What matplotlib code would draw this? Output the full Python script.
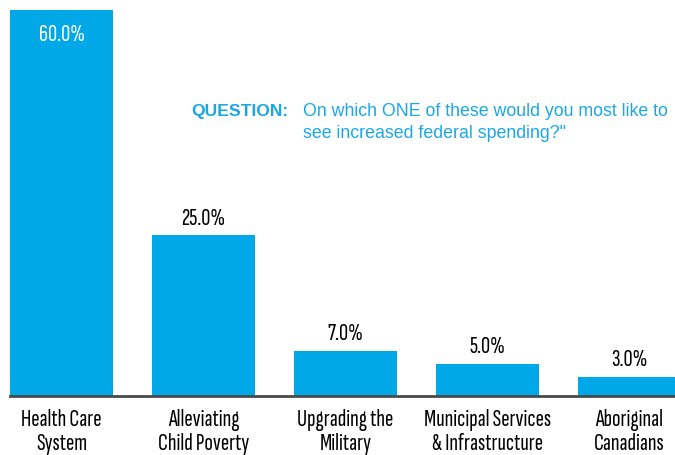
import matplotlib
matplotlib.use("Agg")
import matplotlib.pyplot as plt

# survey results: share of respondents per spending priority
categories = [
    "Health Care\nSystem",
    "Alleviating\nChild Poverty",
    "Upgrading the\nMilitary",
    "Municipal Services\n& Infrastructure",
    "Aboriginal\nCanadians",
]
shares = [60.0, 25.0, 7.0, 5.0, 3.0]

question_tag = "QUESTION:"
question_lines = ["On which ONE of these would you most like to",
                  "see increased federal spending?\""]

BLUE = "#00a8e8"
TEXT_BLUE = "#1aa7e6"
COND = "Sofia Sans Extra Condensed"

fig = plt.figure(figsize=(6.75, 4.55), dpi=100)
ax = fig.add_axes([10 / 675, 59 / 455, 665 / 675, 386 / 455])

x = list(range(len(shares)))
bars = ax.bar(x, shares, width=0.725, color=BLUE, zorder=2)
ax.set_xlim(-0.3627, 4.32)
ax.set_ylim(0, 60)

# value labels: first one sits inside the tall bar
for i, (b, v) in enumerate(zip(bars, shares)):
    label = f"{v:.1f}%"
    cx = b.get_x() + b.get_width() / 2
    if i == 0:
        ax.annotate(label, (cx, v), xytext=(0, -10), textcoords="offset points",
                    ha="center", va="top", color="white", fontsize=18,
                    family=COND, fontweight="medium")
    else:
        ax.annotate(label, (cx, v), xytext=(0, 4), textcoords="offset points",
                    ha="center", va="bottom", color="black", fontsize=18,
                    family=COND, fontweight="medium")

ax.set_xticks(x)
ax.set_xticklabels(categories, fontsize=18, family=COND, fontweight="medium",
                   linespacing=1.1)
ax.tick_params(axis="x", length=0, pad=9.5)
ax.set_yticks([])
for side in ["left", "right", "top"]:
    ax.spines[side].set_visible(False)
ax.spines["bottom"].set_color("#4a4a4a")
ax.spines["bottom"].set_linewidth(2)
ax.spines["bottom"].set_zorder(3)

fig.text(288 / 675, 1 - 116 / 455, question_tag, ha="right", va="baseline",
         fontsize=12.6, fontweight="bold", color=TEXT_BLUE, family="Liberation Sans")
for k, line in enumerate(question_lines):
    fig.text(303 / 675, 1 - (116 + 22 * k) / 455, line, ha="left", va="baseline",
             fontsize=12.8, color=TEXT_BLUE, family="Liberation Sans")

fig.savefig("out.png", dpi=100)
